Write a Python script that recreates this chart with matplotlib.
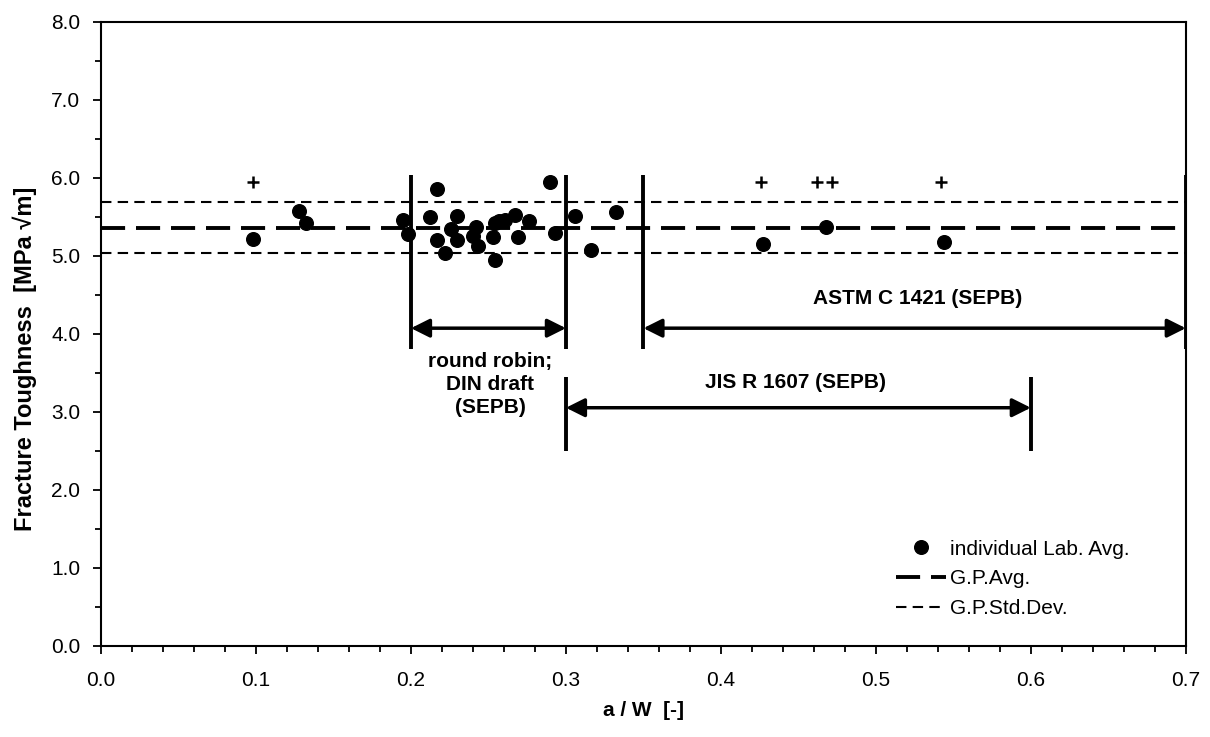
import matplotlib
matplotlib.use('Agg')
import matplotlib.pyplot as plt
from matplotlib.lines import Line2D
from matplotlib.ticker import MultipleLocator, FormatStrFormatter

plt.rcParams['font.family'] = ['Liberation Sans', 'DejaVu Sans']

# ── individual laboratory averages ───────────────────────────────────────────
lab_x = [0.098, 0.128, 0.132,
         0.195, 0.198, 0.212, 0.217, 0.217, 0.222, 0.226, 0.230, 0.230,
         0.240, 0.242, 0.243, 0.253, 0.254, 0.254, 0.257, 0.261, 0.267,
         0.269, 0.276, 0.290, 0.293, 0.306, 0.316, 0.332,
         0.427, 0.468, 0.544]
lab_y = [5.21, 5.57, 5.42,
         5.46, 5.28, 5.50, 5.86, 5.20, 5.03, 5.34, 5.51, 5.20,
         5.25, 5.37, 5.12, 5.24, 5.42, 4.94, 5.44, 5.46, 5.52,
         5.24, 5.45, 5.94, 5.29, 5.51, 5.07, 5.56,
         5.15, 5.37, 5.18]

# outliers marked with "+"
plus_x = [0.098, 0.426, 0.462, 0.472, 0.542]
plus_y = [5.94, 5.94, 5.94, 5.94, 5.94]

# grand population average and standard deviation
gp_avg = 5.36
gp_std = 0.33
x_range = [0.0, 0.7]

# validity ranges of the standards
range_names = ['round robin;\nDIN draft\n(SEPB)', 'ASTM C 1421 (SEPB)', 'JIS R 1607 (SEPB)']
range_start = [0.2, 0.35, 0.3]
range_end = [0.3, 0.7, 0.6]
range_arrow_y = [4.07, 4.07, 3.05]
range_bar_lo = [3.8, 3.8, 2.5]
range_bar_hi = [6.03, 6.03, 3.45]
range_label_x = [0.251, 0.527, 0.448]
range_label_y = [3.35, 4.45, 3.37]

fig = plt.figure(figsize=(12.1, 7.37), dpi=100)
ax = fig.add_axes([0.0835, 0.124, 0.8965, 0.8466])

# average and std-dev lines
ax.plot(x_range, [gp_avg, gp_avg], color='black', lw=2.8, dashes=(6.2, 2.8))
ax.plot(x_range, [gp_avg + gp_std] * 2, color='black', lw=1.5, dashes=(5, 3))
ax.plot(x_range, [gp_avg - gp_std] * 2, color='black', lw=1.5, dashes=(5, 3))

ax.plot(lab_x, lab_y, 'o', color='black', ms=9.8, zorder=5)
ax.plot(plus_x, plus_y, '+', color='black', ms=8, mew=1.8, zorder=5)

# range bars, arrows and labels
for name, x0, x1, ya, lo, hi, tx, ty in zip(range_names, range_start, range_end,
                                           range_arrow_y, range_bar_lo, range_bar_hi,
                                           range_label_x, range_label_y):
    ax.vlines([x0, x1], lo, hi, color='black', lw=2.8, zorder=4)
    ax.annotate('', xy=(x1, ya), xytext=(x0, ya),
                arrowprops=dict(arrowstyle='<|-|>', color='black', lw=2.5,
                                mutation_scale=28, shrinkA=0, shrinkB=0))
    ax.text(tx, ty, name, ha='center', va='center', fontsize=15,
            fontweight='bold', linespacing=1.25)

ax.set_xlim(0, 0.7)
ax.set_ylim(0, 8)
ax.xaxis.set_major_locator(MultipleLocator(0.1))
ax.xaxis.set_minor_locator(MultipleLocator(0.02))
ax.yaxis.set_major_locator(MultipleLocator(1.0))
ax.yaxis.set_minor_locator(MultipleLocator(0.5))
ax.xaxis.set_major_formatter(FormatStrFormatter('%.1f'))
ax.yaxis.set_major_formatter(FormatStrFormatter('%.1f'))
ax.tick_params(which='both', direction='out', width=1.3, labelsize=15)
ax.tick_params(which='major', length=6)
ax.tick_params(which='minor', length=4)
ax.tick_params(axis='x', which='major', pad=12)
ax.tick_params(axis='y', which='major', pad=9)
for spine in ax.spines.values():
    spine.set_linewidth(1.5)

ax.set_xlabel('a / W  [-]', fontsize=15, fontweight='bold', labelpad=8)
ax.set_ylabel('Fracture Toughness  [MPa √m]', fontsize=17, fontweight='bold')
ax.yaxis.set_label_coords(-0.059, 0.46)

handles = [
    Line2D([], [], ls='none', marker='o', color='black', ms=9.8),
    Line2D([], [], color='black', lw=2.8, dashes=(6.2, 2.8)),
    Line2D([], [], color='black', lw=1.5, dashes=(5, 3)),
]
ax.legend(handles, ['individual Lab. Avg.', 'G.P.Avg.', 'G.P.Std.Dev.'],
          loc='upper left', bbox_to_anchor=(0.733, 0.17), frameon=False,
          fontsize=15, handlelength=2.4, handletextpad=0.2, labelspacing=0.52,
          borderpad=0, borderaxespad=0)

fig.savefig('out.png', dpi=100, facecolor='white')
